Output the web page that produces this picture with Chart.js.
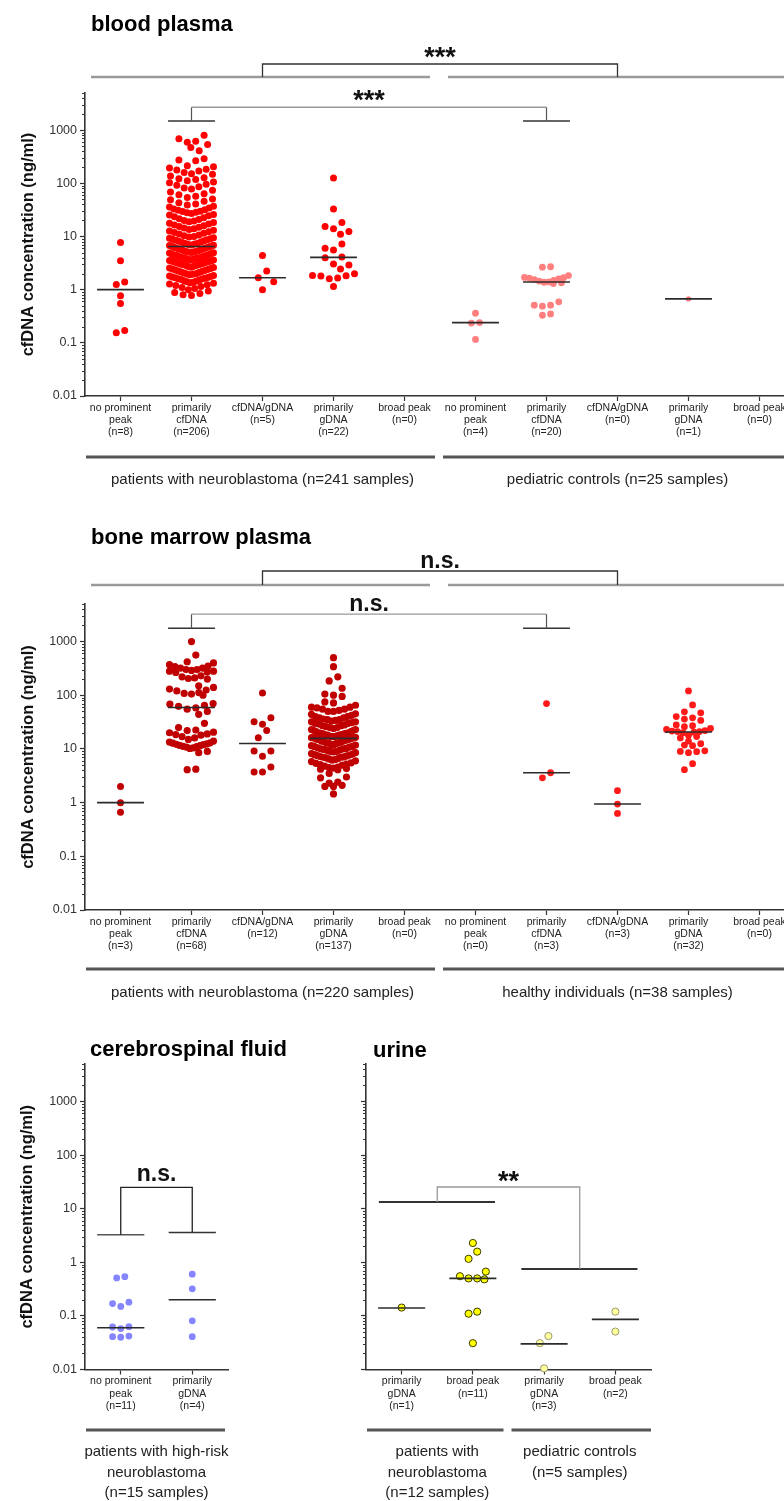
<!DOCTYPE html>
<html>
<head>
<meta charset="utf-8">
<script src="https://cdn.jsdelivr.net/npm/chart.js@4.4.1/dist/chart.umd.min.js"></script>
<style>
html,body{margin:0;padding:0;background:#fff;width:784px;height:1501px;overflow:hidden;position:relative}
canvas{position:absolute}
</style>
</head>
<body>
<canvas id="cBlood" width="830" height="500" style="left:0;top:0"></canvas>
<canvas id="cBone" width="830" height="500" style="left:0;top:505px"></canvas>
<canvas id="cCsf" width="340" height="486" style="left:0;top:1015px"></canvas>
<canvas id="cUrine" width="444" height="486" style="left:340px;top:1015px"></canvas>
<script>
// ================= DATA =================
const yTicks = [0.01, 0.1, 1, 10, 100, 1000];
const yTickLabels = ['0.01', '0.1', '1', '10', '100', '1000'];

// ---- blood plasma ----
const bloodLabels = [
  ['no prominent', 'peak', '(n=8)'], ['primarily', 'cfDNA', '(n=206)'], ['cfDNA/gDNA', '(n=5)'],
  ['primarily', 'gDNA', '(n=22)'], ['broad peak', '(n=0)'],
  ['no prominent', 'peak', '(n=4)'], ['primarily', 'cfDNA', '(n=20)'], ['cfDNA/gDNA', '(n=0)'],
  ['primarily', 'gDNA', '(n=1)'], ['broad peak', '(n=0)']
];
const bloodGroups = ['patients with neuroblastoma (n=241 samples)', 'pediatric controls (n=25 samples)'];
const bloodPatNoPeak = [7.7, 3.5, 1.4, 1.25, 0.77, 0.55, 0.17, 0.155];
const bloodPatCfDNA = [
  800, 690, 620, 590, 540, 470, 410,
  290, 275, 265, 215, 205, 195, 185, 178, 170, 160, 152, 148,
  138, 128, 122, 118, 112, 106, 102, 96, 92, 86, 82, 78,
  74, 69, 64, 61, 57, 54, 51, 49, 46, 43, 41, 39,
  37, 36, 34.5, 33, 32, 31, 30, 29.5, 28.5, 28, 27, 26, 25.5, 24.5, 23.5, 22.5, 21.5, 20.8,
  20, 19.5, 19, 18.4, 17.8, 17.2, 16.5, 16, 15.4, 15, 14.4, 14, 13.6, 13.1, 12.7, 12.3, 11.9, 11.5, 11.1, 10.7, 10.3, 10,
  9.8, 9.5, 9.3, 9.1, 8.9, 8.7, 8.5, 8.3, 8.1, 7.9, 7.7, 7.5, 7.35, 7.2, 7.05, 6.95, 6.85, 6.75, 6.65, 6.55,
  6.4, 6.3, 6.2, 6.1, 6.0, 5.9, 5.8, 5.7, 5.6, 5.5, 5.4, 5.3, 5.2, 5.15, 5.1, 5.05, 5.0, 4.95,
  4.9, 4.8, 4.7, 4.6, 4.5, 4.45, 4.4, 4.3, 4.2, 4.1, 4.05, 4.0, 3.95, 3.9, 3.85, 3.8, 3.75, 3.7, 3.65, 3.6, 3.55, 3.5,
  3.45, 3.4, 3.35, 3.3, 3.25, 3.2, 3.15, 3.1, 3.05, 3.0, 2.97, 2.93, 2.9, 2.85, 2.8, 2.75, 2.7, 2.65, 2.6, 2.55,
  2.5, 2.45, 2.4, 2.35, 2.3, 2.25, 2.2, 2.15, 2.1, 2.05, 2.0, 1.97, 1.94, 1.9, 1.85, 1.8, 1.77, 1.74, 1.7, 1.67, 1.64, 1.61,
  1.58, 1.55, 1.5, 1.47, 1.44, 1.41, 1.38, 1.35, 1.32, 1.28, 1.24, 1.2, 1.15, 1.1, 1.05,
  1.0, 0.94, 0.88, 0.85, 0.8, 0.78
];
const bloodPatMixed = [4.4, 2.25, 1.68, 1.41, 1.0];
const bloodPatGDNA = [126, 33, 18.4, 15.5, 14, 12.4, 11, 7.2, 6.0, 5.6, 4.1, 4.0, 3.05, 2.9, 2.45, 2.0, 1.85, 1.82, 1.8, 1.65, 1.6, 1.15];
const bloodPatBroad = [];
const bloodCtlNoPeak = [0.36, 0.24, 0.235, 0.116];
const bloodCtlCfDNA = [2.7, 2.65, 1.84, 1.7, 1.68, 1.65, 1.6, 1.55, 1.5, 1.45, 1.4, 1.38, 1.35, 1.3, 0.59, 0.51, 0.51, 0.49, 0.35, 0.33];
const bloodCtlMixed = [];
const bloodCtlGDNA = [0.67];
const bloodCtlBroad = [];
const bloodMedians = [1.0, 6.5, 1.68, 4.05, null, 0.24, 1.39, null, 0.67, null];

// ---- bone marrow plasma ----
const boneLabels = [
  ['no prominent', 'peak', '(n=3)'], ['primarily', 'cfDNA', '(n=68)'], ['cfDNA/gDNA', '(n=12)'],
  ['primarily', 'gDNA', '(n=137)'], ['broad peak', '(n=0)'],
  ['no prominent', 'peak', '(n=0)'], ['primarily', 'cfDNA', '(n=3)'], ['cfDNA/gDNA', '(n=3)'],
  ['primarily', 'gDNA', '(n=32)'], ['broad peak', '(n=0)']
];
const boneGroups = ['patients with neuroblastoma (n=220 samples)', 'healthy individuals (n=38 samples)'];
const bonePatNoPeak = [2.0, 0.99, 0.66];
const bonePatCfDNA = [
  1000, 560, 420, 400,
  370, 340, 320, 300, 290, 280, 270, 265, 280, 300, 320, 350,
  230, 210, 200, 205, 220,
  150, 140, 130, 120, 112, 105, 100, 58, 108, 125, 55,
  70, 65, 62, 68,
  50, 44,
  30, 25,
  22, 20, 19, 18, 17, 18.5, 20.5, 22.5,
  14, 13, 12, 12.2, 11.5, 11, 11.2, 10.5, 10.8, 11.6, 12.4, 12.8, 13.4, 10.2,
  16, 15, 9,
  8.5,
  4.2, 4.1
];
const bonePatMixed = [110, 38, 32, 28.7, 22, 16.2, 9.1, 9.1, 7.3, 4.6, 3.7, 3.7];
const bonePatGDNA = [
  500, 340, 220, 185, 135, 105, 100, 95, 75, 72,
  65, 60, 58, 55, 52, 50, 50, 55, 60,
  45, 42, 40, 38, 36, 35, 34, 33, 32, 31, 30, 30, 32, 35, 38, 40, 44,
  28, 27, 26, 25, 24, 23, 22, 22, 21, 20, 20, 21, 23, 25, 27, 29,
  19.5, 19, 18.5, 18, 17.5, 17, 16.5, 16, 16, 17, 18, 19, 19.5, 16.2, 17.2, 18.2,
  15.5, 15, 14.5, 14, 13.5, 13, 12.5, 12, 12, 13, 14, 15, 15.2, 13.8, 12.8,
  11.5, 11, 10.5, 10, 10, 9.5, 9, 9, 10.2, 10.8, 11.2, 11.8, 9.8, 9.3,
  8.5, 8, 7.8, 7.5, 7.2, 7, 7, 6.8, 6.5, 6.2, 6, 7.4, 7.7, 8.2, 8.8, 6.6, 6.3, 7.1,
  5.8, 5.5, 5.2, 5, 4.8, 4.5, 4.3, 4.2, 4.1, 4.4, 4.6, 5.1, 5.4,
  3.5, 3.0, 2.9, 2.4, 2.3, 2.1, 2.0, 2.0, 1.45
];
const bonePatBroad = [];
const boneCtlNoPeak = [];
const boneCtlCfDNA = [70, 3.6, 2.9];
const boneCtlMixed = [1.67, 0.94, 0.63];
const boneCtlGDNA = [120, 66, 49, 47, 40, 38, 36, 34, 28, 27, 26, 24, 23, 22, 21.5, 21, 20.5, 20, 21, 18, 17, 16, 14, 12.5, 11.8, 11.5, 9.2, 8.9, 8.5, 9.0, 5.3, 4.1];
const boneCtlBroad = [];
const boneMedians = [1.0, 59, 12.6, 15.7, null, null, 3.6, 0.94, 20.6, null];

// ---- cerebrospinal fluid ----
const csfLabels = [['no prominent', 'peak', '(n=11)'], ['primarily', 'gDNA', '(n=4)']];
const csfGroup = ['patients with high-risk', 'neuroblastoma', '(n=15 samples)'];
const csfNoPeak = [0.54, 0.51, 0.18, 0.17, 0.15, 0.063, 0.062, 0.058, 0.042, 0.041, 0.04];
const csfGDNA = [0.6, 0.32, 0.081, 0.041];
const csfMedians = [0.06, 0.2];

// ---- urine ----
const urineLabels = [['primarily', 'gDNA', '(n=1)'], ['broad peak', '(n=11)'], ['primarily', 'gDNA', '(n=3)'], ['broad peak', '(n=2)']];
const urineGroupPat = ['patients with', 'neuroblastoma', '(n=12 samples)'];
const urineGroupCtl = ['pediatric controls', '(n=5 samples)'];
const urinePatGDNA = [0.143];
const urinePatBroad = [2.29, 1.58, 1.16, 0.67, 0.55, 0.5, 0.5, 0.48, 0.12, 0.11, 0.031];
const urineCtlGDNA = [0.042, 0.031, 0.0105];
const urineCtlBroad = [0.12, 0.051];
const urineMedians = [0.14, 0.5, 0.03, 0.086];

// significance bracket heights (ng/ml)
const bloodInnerBracket = { cap: 1480, top: 2700 };
const boneInnerBracket = { cap: 1760, top: 3240 };
const csfBracket = { capLeft: 3.27, capRight: 3.6, top: 25 };
const urineBracket = { capPat: 13.3, top: 25.4, capCtl: 0.75 };

// ================= STYLE / HELPERS =================
const FONT = "'Liberation Sans', Arial, Helvetica, sans-serif";
Chart.defaults.font.family = FONT;
const MED_HALF = 0.33;

function line(ctx, x1, y1, x2, y2, color, w) {
  ctx.beginPath(); ctx.strokeStyle = color; ctx.lineWidth = w;
  ctx.moveTo(x1, y1); ctx.lineTo(x2, y2); ctx.stroke();
}
function poly(ctx, pts, color, w) {
  ctx.beginPath(); ctx.strokeStyle = color; ctx.lineWidth = w; ctx.lineJoin = 'miter';
  pts.forEach((p, i) => i ? ctx.lineTo(p[0], p[1]) : ctx.moveTo(p[0], p[1]));
  ctx.stroke();
}
function txt(ctx, s, x, y, font, color, align, base) {
  ctx.font = font; ctx.fillStyle = color; ctx.textAlign = align || 'left';
  ctx.textBaseline = base || 'middle'; ctx.fillText(s, x, y);
}
function yTitle(ctx, x, y) {
  ctx.save(); ctx.translate(x, y); ctx.rotate(-Math.PI / 2);
  txt(ctx, 'cfDNA concentration (ng/ml)', 0, 0, 'bold 16.5px ' + FONT, '#111', 'center');
  ctx.restore();
}
function title(ctx, s, x, y) { txt(ctx, s, x, y, 'bold 22px ' + FONT, '#000', 'left'); }
function stars(ctx, s, x, cy) { txt(ctx, s, x, cy + 15, 'bold 27px ' + FONT, '#111', 'center', 'alphabetic'); }
function ns(ctx, x, cy) { txt(ctx, 'n.s.', x, cy, 'bold 23px ' + FONT, '#111', 'center'); }
function groupLabel(ctx, lines, x, y0, dy) {
  lines.forEach((l, i) => txt(ctx, l, x, y0 + i * dy, '15px ' + FONT, '#222', 'center'));
}

const annotDraw = {
  cBlood(ctx, X, Y, ca) {
    yTitle(ctx, 28, (ca.top + ca.bottom) / 2);
    title(ctx, 'blood plasma', 91, 25);
    line(ctx, X(-0.5) + 6, 77, X(4.5) - 10, 77, '#9a9a9a', 2.5);
    line(ctx, X(4.5) + 8, 77, 830, 77, '#9a9a9a', 2.5);
    poly(ctx, [[X(2), 77], [X(2), 64], [X(7), 64], [X(7), 77]], '#333', 1.3);
    stars(ctx, '***', (X(2) + X(7)) / 2, 51);
    const b = bloodInnerBracket;
    line(ctx, X(1 - MED_HALF), Y(b.cap), X(1 + MED_HALF), Y(b.cap), '#333', 1.5);
    line(ctx, X(6 - MED_HALF), Y(b.cap), X(6 + MED_HALF), Y(b.cap), '#333', 1.5);
    line(ctx, X(1), Y(b.cap), X(1), Y(b.top), '#555', 1.2);
    line(ctx, X(6), Y(b.cap), X(6), Y(b.top), '#555', 1.2);
    line(ctx, X(1), Y(b.top), X(6), Y(b.top), '#999', 1.3);
    stars(ctx, '***', (X(1) + X(6)) / 2, 94);
    line(ctx, X(-0.5) + 1, 457, X(4.5) - 5, 457, '#555', 3);
    line(ctx, X(4.5) + 3, 457, 830, 457, '#555', 3);
    groupLabel(ctx, [bloodGroups[0]], X(2), 480, 20);
    groupLabel(ctx, [bloodGroups[1]], X(7), 480, 20);
  },
  cBone(ctx, X, Y, ca) {
    yTitle(ctx, 28, (ca.top + ca.bottom) / 2);
    title(ctx, 'bone marrow plasma', 91, 33);
    line(ctx, X(-0.5) + 6, 80, X(4.5) - 10, 80, '#9a9a9a', 2.5);
    line(ctx, X(4.5) + 8, 80, 830, 80, '#9a9a9a', 2.5);
    poly(ctx, [[X(2), 80], [X(2), 66], [X(7), 66], [X(7), 80]], '#333', 1.3);
    ns(ctx, (X(2) + X(7)) / 2, 57);
    const b = boneInnerBracket;
    line(ctx, X(1 - MED_HALF), Y(b.cap), X(1 + MED_HALF), Y(b.cap), '#333', 1.5);
    line(ctx, X(6 - MED_HALF), Y(b.cap), X(6 + MED_HALF), Y(b.cap), '#333', 1.5);
    line(ctx, X(1), Y(b.cap), X(1), Y(b.top), '#555', 1.2);
    line(ctx, X(6), Y(b.cap), X(6), Y(b.top), '#555', 1.2);
    line(ctx, X(1), Y(b.top), X(6), Y(b.top), '#999', 1.3);
    ns(ctx, (X(1) + X(6)) / 2, 100);
    line(ctx, X(-0.5) + 1, 464, X(4.5) - 5, 464, '#555', 3);
    line(ctx, X(4.5) + 3, 464, 830, 464, '#555', 3);
    groupLabel(ctx, [boneGroups[0]], X(2), 488, 20);
    groupLabel(ctx, [boneGroups[1]], X(7), 488, 20);
  },
  cCsf(ctx, X, Y, ca) {
    yTitle(ctx, 27, (ca.top + ca.bottom) / 2);
    title(ctx, 'cerebrospinal fluid', 90, 35);
    const b = csfBracket;
    line(ctx, X(0 - MED_HALF), Y(b.capLeft), X(0 + MED_HALF), Y(b.capLeft), '#555', 1.5);
    line(ctx, X(1 - MED_HALF), Y(b.capRight), X(1 + MED_HALF), Y(b.capRight), '#333', 1.5);
    poly(ctx, [[X(0), Y(b.capLeft)], [X(0), Y(b.top)], [X(1), Y(b.top)], [X(1), Y(b.capRight)]], '#222', 1.3);
    ns(ctx, (X(0) + X(1)) / 2, 160);
    line(ctx, X(-0.5) + 1, 415, X(1.5) - 3, 415, '#555', 3);
    groupLabel(ctx, csfGroup, (X(0) + X(1)) / 2, 437, 20.5);
  },
  cUrine(ctx, X, Y, ca) {
    title(ctx, 'urine', 33, 36);
    const b = urineBracket;
    line(ctx, X(-0.32), Y(b.capPat), X(1.31), Y(b.capPat), '#333', 2);
    line(ctx, X(1.68), Y(b.capCtl), X(3.31), Y(b.capCtl), '#333', 2);
    poly(ctx, [[X(0.5), Y(b.capPat)], [X(0.5), Y(b.top)], [X(2.5), Y(b.top)], [X(2.5), Y(b.capCtl)]], '#999', 1.3);
    stars(ctx, '**', X(1.5), 160);
    line(ctx, X(-0.5) + 1, 415, X(1.5) - 5, 415, '#555', 3);
    line(ctx, X(1.5) + 3, 415, X(3.5), 415, '#555', 3);
    groupLabel(ctx, urineGroupPat, X(0.5), 437, 20.5);
    groupLabel(ctx, urineGroupCtl, X(2.5), 437, 20.5);
  }
};

const annotPlugin = {
  id: 'annot',
  afterDraw(chart) {
    const ctx = chart.ctx, ca = chart.chartArea, xs = chart.scales.x, ys = chart.scales.y;
    const X = v => xs.getPixelForValue(v), Y = v => ys.getPixelForValue(v);
    ctx.save();
    ctx.strokeStyle = '#333'; ctx.lineWidth = 1;
    for (let e = -2; e <= 3; e++) {
      for (let k = 2; k <= 9; k++) {
        const v = k * Math.pow(10, e);
        if (v > ys.max) continue;
        const py = Math.round(Y(v)) + 0.5;
        ctx.beginPath(); ctx.moveTo(ca.left - 3, py); ctx.lineTo(ca.left, py); ctx.stroke();
      }
    }
    annotDraw[chart.canvas.id](ctx, X, Y, ca);
    ctx.restore();
  }
};

function pointSets(lists, fills, borders, bw, radius) {
  return lists.map((vals, i) => ({
    type: 'scatter', cat: i, raw: vals,
    data: vals.map(v => ({ x: i, y: v })),
    backgroundColor: fills[i], borderColor: borders[i], borderWidth: bw[i],
    pointRadius: radius[i], pointHoverRadius: radius[i], order: 2, clip: false
  })).filter(d => d.raw.length);
}
function medianSets(meds) {
  return meds.map((m, i) => m == null ? null : ({
    type: 'line', data: [{ x: i - MED_HALF, y: m }, { x: i + MED_HALF, y: m }],
    borderColor: '#2b2b2b', borderWidth: 1.6, pointRadius: 0, fill: false, order: 1
  })).filter(Boolean);
}

// GraphPad-style column scatter: points close in value share a row and sit side by side
function columnScatter(chart, maxHalf) {
  const xs = chart.scales.x, ys = chart.scales.y;
  const ppu = xs.getPixelForValue(1) - xs.getPixelForValue(0);
  chart.data.datasets.forEach(ds => {
    if (ds.cat === undefined) return;
    const d = ds.pointRadius * 2;
    const rowH = d * 1.05;
    const items = ds.raw.map((v, k) => ({ k, v, py: ys.getPixelForValue(v), ox: 0 }));
    const sorted = items.slice().sort((a, b) => a.py - b.py);
    const rows = [];
    sorted.forEach(it => {
      const r = rows[rows.length - 1];
      if (r && it.py - r.start < rowH) r.items.push(it);
      else rows.push({ start: it.py, items: [it] });
    });
    const placed = [];
    rows.forEach(r => {
      const n = r.items.length;
      const s = n > 1 ? Math.min(d * 1.2, (2 * maxHalf) / (n - 1)) : 0;
      const offs = [];
      for (let j = 0; j < n; j++) offs.push((j - (n - 1) / 2) * s);
      offs.sort((a, b) => Math.abs(a) - Math.abs(b) || a - b);
      r.items.sort((a, b) => a.v - b.v);
      r.items.forEach((it, j) => { it.ox = offs[j]; });
      const loose = n === 1 || s >= d * 1.2 - 1e-9;
      if (loose && placed.length) {
        const minDist = shift => {
          let m = Infinity;
          r.items.forEach(it => placed.forEach(p => {
            m = Math.min(m, Math.hypot(p.ox - (it.ox + shift), p.py - it.py));
          }));
          return m;
        };
        if (minDist(0) < d * 0.9) {
          const span = Math.max(...r.items.map(it => Math.abs(it.ox)));
          let best = 0, bestM = minDist(0);
          [d * 0.6, -d * 0.6, d * 1.1, -d * 1.1, d * 1.6, -d * 1.6].forEach(sh => {
            if (span + Math.abs(sh) > maxHalf) return;
            const m = minDist(sh);
            if (m > bestM + 0.5) { bestM = m; best = sh; }
          });
          r.items.forEach(it => { it.ox += best; });
        }
      }
      r.items.forEach(it => placed.push(it));
    });
    ds.data = items.map(it => ({ x: ds.cat + it.ox / ppu, y: it.v }));
  });
  chart.update('none');
}

function makeChart(id, cfg) {
  const chart = new Chart(document.getElementById(id), {
    type: 'scatter',
    data: { datasets: [...cfg.points, ...cfg.medians] },
    options: {
      responsive: false, animation: false, devicePixelRatio: 1, events: [],
      layout: { padding: { top: cfg.padTop, right: cfg.padRight, left: 0, bottom: 0 } },
      plugins: { legend: { display: false }, tooltip: { enabled: false } },
      scales: {
        x: {
          type: 'linear', min: -0.5, max: cfg.labels.length - 0.5,
          afterBuildTicks: s => { s.ticks = cfg.labels.map((_, i) => ({ value: i })); },
          afterFit: s => { s.height = cfg.xHeight; },
          ticks: {
            callback: (v, i) => cfg.labels[i], autoSkip: false, maxRotation: 0, minRotation: 0,
            padding: 1, color: '#222', font: { size: 10.5, lineHeight: 1.15 }
          },
          grid: { drawOnChartArea: false, drawTicks: true, tickLength: 5, tickColor: '#333', tickWidth: 1.2 },
          border: { display: true, color: '#333', width: 1.6 }
        },
        y: {
          type: 'logarithmic', min: 0.01, max: 5000,
          afterBuildTicks: s => { s.ticks = yTicks.map(v => ({ value: v, major: true })); },
          afterFit: s => { s.width = cfg.yWidth; },
          ticks: {
            display: cfg.yLabels, callback: (v, i) => yTickLabels[i],
            padding: 3, color: '#333', font: { size: 12.5 }
          },
          grid: { drawOnChartArea: false, drawTicks: true, tickLength: 5, tickColor: '#333', tickWidth: 1.2 },
          border: { display: true, color: '#333', width: 1.6 }
        }
      }
    },
    plugins: [annotPlugin]
  });
  columnScatter(chart, 22);
  return chart;
}

// ================= CHARTS =================
const RED = '#ff0000', PINK = '#ff7f7f', DARKRED = '#c00000', BRED = '#ff1a1a';
makeChart('cBlood', {
  labels: bloodLabels, padTop: 93, padRight: 35, xHeight: 104, yWidth: 85, yLabels: true,
  points: pointSets(
    [bloodPatNoPeak, bloodPatCfDNA, bloodPatMixed, bloodPatGDNA, bloodPatBroad,
     bloodCtlNoPeak, bloodCtlCfDNA, bloodCtlMixed, bloodCtlGDNA, bloodCtlBroad],
    [RED, RED, RED, RED, RED, PINK, PINK, PINK, PINK, PINK],
    [RED, RED, RED, RED, RED, PINK, PINK, PINK, PINK, PINK],
    [0, 0, 0, 0, 0, 0, 0, 0, 0, 0],
    [3.5, 3.5, 3.5, 3.5, 3.5, 3.4, 3.4, 3.4, 2.7, 3.4]),
  medians: medianSets(bloodMedians)
});
makeChart('cBone', {
  labels: boneLabels, padTop: 99, padRight: 35, xHeight: 95, yWidth: 85, yLabels: true,
  points: pointSets(
    [bonePatNoPeak, bonePatCfDNA, bonePatMixed, bonePatGDNA, bonePatBroad,
     boneCtlNoPeak, boneCtlCfDNA, boneCtlMixed, boneCtlGDNA, boneCtlBroad],
    [DARKRED, DARKRED, DARKRED, DARKRED, DARKRED, BRED, BRED, BRED, BRED, BRED],
    [DARKRED, DARKRED, DARKRED, DARKRED, DARKRED, BRED, BRED, BRED, BRED, BRED],
    [0, 0, 0, 0, 0, 0, 0, 0, 0, 0],
    [3.5, 3.6, 3.5, 3.6, 3.5, 3.4, 3.4, 3.4, 3.4, 3.4]),
  medians: medianSets(boneMedians)
});
makeChart('cCsf', {
  labels: csfLabels, padTop: 49, padRight: 112, xHeight: 131.5, yWidth: 85, yLabels: true,
  points: pointSets([csfNoPeak, csfGDNA], ['#8585ff', '#8585ff'], ['#8585ff', '#8585ff'], [0, 0], [3.4, 3.4]),
  medians: medianSets(csfMedians)
});
makeChart('cUrine', {
  labels: urineLabels, padTop: 49, padRight: 133, xHeight: 131.5, yWidth: 26, yLabels: false,
  points: pointSets([urinePatGDNA, urinePatBroad, urineCtlGDNA, urineCtlBroad],
    ['#ffff00', '#ffff00', '#ffff9e', '#ffff9e'], ['#3a3a00', '#3a3a00', '#9a9a70', '#9a9a70'],
    [1, 1, 1, 1], [3.6, 3.6, 3.6, 3.6]),
  medians: medianSets(urineMedians)
});
</script>
</body>
</html>
